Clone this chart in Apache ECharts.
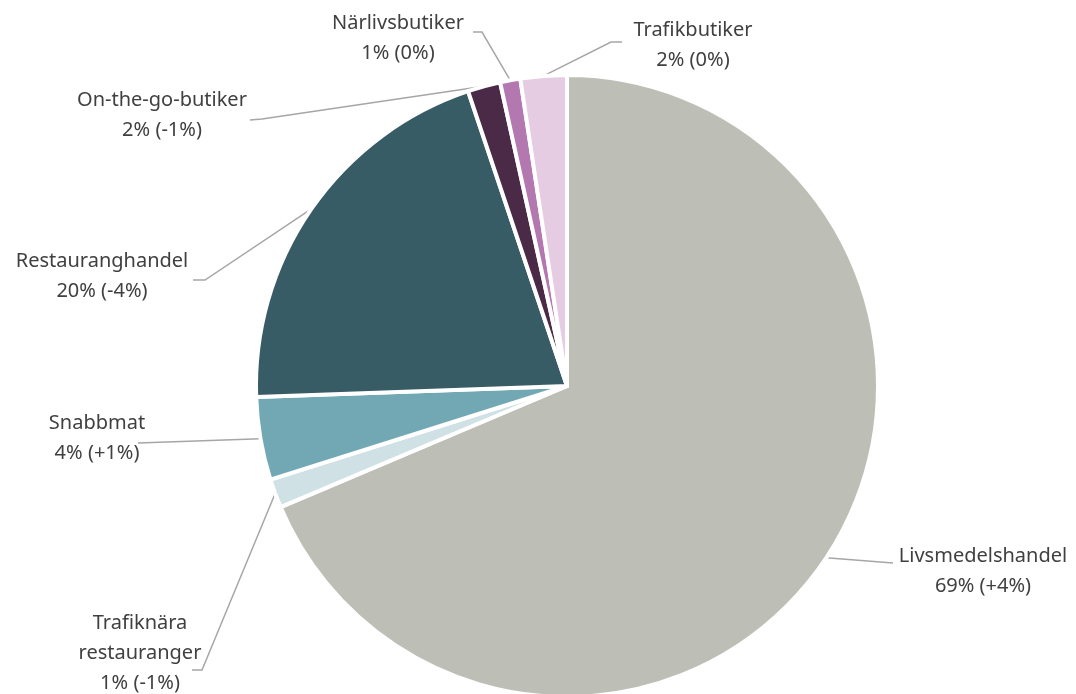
<!DOCTYPE html>
<html>
<head>
<meta charset="utf-8">
<script src="https://cdn.jsdelivr.net/npm/echarts@6/dist/echarts.min.js"></script>
<style>
    html, body { margin: 0; padding: 0; background: #fff; }
    #pie { width: 1076px; height: 694px; }
</style>
</head>
<body>
<div id="pie"></div>
<script>
    // slice order: clockwise from 12 o'clock
    const categories = ['Livsmedelshandel', 'Trafiknära restauranger', 'Snabbmat', 'Restauranghandel',
        'On-the-go-butiker', 'Närlivsbutiker', 'Trafikbutiker'];
    const shares = [68.6, 1.5, 4.3, 20.4, 1.7, 1.05, 2.4];
    const shareLabels = ['69%', '1%', '4%', '20%', '2%', '1%', '2%'];
    const changes = ['+4%', '-1%', '+1%', '-4%', '-1%', '0%', '0%'];

    const colors = ['#bdbfb7', '#d0e1e5', '#72a8b4', '#375c65', '#4b2a48', '#b478b0', '#e6cce2'];

    // where each label sits (block centre) and the bend of its leader line
    const labelPos = [
        {x: 983, y: 571, line: [[893, 563]]},
        {x: 140, y: 653, line: [[202, 670], [192, 670]]},
        {x: 97,  y: 438, line: [[138, 443]]},
        {x: 102, y: 276, line: [[205, 280], [193, 280]]},
        {x: 162, y: 115, line: [[262, 119], [250, 120]]},
        {x: 398, y: 38,  line: [[482, 32], [473, 32]]},
        {x: 693, y: 45,  line: [[611, 42], [622, 42]]}
    ];

    const myChart = echarts.init(document.getElementById('pie'));
    myChart.setOption({
        animation: false,
        series: [{
            type: 'pie',
            center: [567, 386],
            radius: 311,
            startAngle: 90,
            clockwise: true,
            avoidLabelOverlap: false,
            itemStyle: {
                borderColor: '#fff',
                borderWidth: 4
            },
            label: {
                show: true,
                fontFamily: 'Noto Sans',
                fontSize: 20,
                lineHeight: 30,
                color: '#404040',
                align: 'center',
                formatter: function (p) {
                    let name = p.name.replace(' ', '\n');
                    return name + '\n' + shareLabels[p.dataIndex] + ' (' + changes[p.dataIndex] + ')';
                }
            },
            labelLine: {
                show: true,
                lineStyle: { color: '#a6a6a6', width: 1.5 }
            },
            labelLayout: function (params) {
                const pos = labelPos[params.dataIndex];
                const start = params.labelLinePoints ? params.labelLinePoints[0] : null;
                const out = {
                    x: pos.x,
                    y: pos.y,
                    align: 'center',
                    verticalAlign: 'middle'
                };
                if (start) {
                    out.labelLinePoints = [start].concat(pos.line);
                }
                return out;
            },
            data: categories.map(function (c, i) {
                return { name: c, value: shares[i], itemStyle: { color: colors[i] } };
            })
        }]
    });
</script>
</body>
</html>
